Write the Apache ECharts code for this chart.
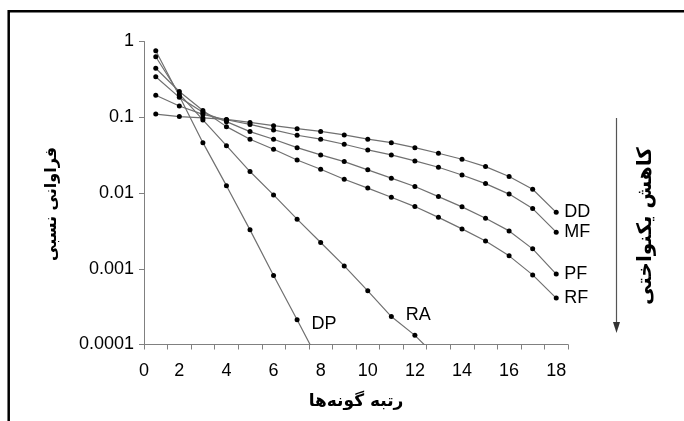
<!DOCTYPE html>
<html>
<head>
<meta charset="utf-8">
<script src="https://cdn.jsdelivr.net/npm/echarts@6/dist/echarts.min.js"></script>
<style>
  html, body { margin: 0; padding: 0; background: #fff; }
  #chart { width: 684px; height: 421px; }
</style>
</head>
<body>
<div id="chart"></div>
<script>
  // species rank (category axis)
  const ranks = ['1', '2', '3', '4', '5', '6', '7', '8', '9', '10', '11', '12', '13', '14', '15', '16', '17', '18'];
  const yMin = 0.0001;
  const yMax = 1;

  // relative abundance per model
  const dd = [0.110, 0.102, 0.098, 0.0935, 0.0854, 0.0775, 0.0707, 0.0650, 0.0584, 0.0513, 0.0462, 0.0397, 0.0335, 0.0279, 0.0223, 0.0165, 0.0112, 0.00555];
  const mf = [0.195, 0.141, 0.109, 0.0927, 0.0804, 0.0680, 0.0579, 0.0513, 0.0440, 0.0370, 0.0318, 0.0265, 0.0219, 0.0173, 0.0133, 0.00967, 0.00623, 0.00304];
  const pf = [0.343, 0.183, 0.116, 0.0875, 0.0646, 0.0513, 0.0397, 0.0318, 0.0260, 0.0202, 0.0157, 0.0122, 0.00896, 0.00656, 0.00465, 0.00316, 0.00183, 0.00085];
  const rf = [0.443, 0.219, 0.123, 0.0752, 0.0513, 0.0378, 0.0273, 0.0206, 0.0152, 0.0116, 0.0088, 0.00662, 0.00477, 0.00336, 0.00233, 0.00148, 0.00083, 0.00041];
  const ra = [0.63, 0.203, 0.0921, 0.0422, 0.0192, 0.00944, 0.00451, 0.00222, 0.00109, 0.000511, 0.000234, 0.000132, 0.000065];
  const dp = [0.756, 0.191, 0.0462, 0.0125, 0.00326, 0.000813, 0.000212, 0.000054];

  const numFont = 'Liberation Sans, Arial, sans-serif';
  const faFont = 'DejaVu Sans, sans-serif';
  const lineColor = '#707070';

  // line with a label at the end of the series
  const endSeries = (name, data) => ({
    name: name,
    type: 'line',
    data: data,
    symbol: 'circle',
    symbolSize: 5,
    itemStyle: { color: '#000' },
    lineStyle: { color: lineColor, width: 1.2 },
    endLabel: {
      show: true,
      formatter: '{a}',
      distance: 8,
      color: '#000',
      fontFamily: numFont,
      fontSize: 18,
    },
  });

  // line with a label next to one of its points
  const pointLabelSeries = (name, data, idx, offset) => ({
    name: name,
    type: 'line',
    data: data.map((v, i) => i === idx
      ? { value: v, label: { show: true, position: 'right', distance: 12, offset: offset, formatter: name } }
      : v),
    symbol: 'circle',
    symbolSize: 5,
    itemStyle: { color: '#000' },
    lineStyle: { color: lineColor, width: 1.2 },
    label: { color: '#000', fontFamily: numFont, fontSize: 18 },
  });

  const chart = echarts.init(document.getElementById('chart'));
  chart.setOption({
    animation: false,
    grid: { left: 144, right: 116, top: 41.5, bottom: 76.5 },
    xAxis: [
      {
        type: 'category',
        data: ranks,
        boundaryGap: true,
        name: 'رتبه گونه‌ها',
        nameLocation: 'middle',
        nameGap: 49,
        nameTextStyle: { fontFamily: faFont, fontWeight: 'bold', fontSize: 17, color: '#000' },
        axisLine: { lineStyle: { color: '#808080', width: 1 } },
        axisTick: { show: true, interval: 0, length: 5, lineStyle: { color: '#808080' } },
        axisLabel: {
          interval: (i) => (i + 1) % 2 === 0,
          margin: 18,
          color: '#000',
          fontFamily: numFont,
          fontSize: 18,
        },
        splitLine: { show: false },
      },
      {
        // only carries the "0" at the origin
        type: 'value',
        position: 'bottom',
        min: 0,
        max: 18,
        interval: 18,
        axisLine: { show: false },
        axisTick: { show: false },
        splitLine: { show: false },
        axisLabel: {
          formatter: (v) => (v === 0 ? '0' : ''),
          margin: 18,
          color: '#000',
          fontFamily: numFont,
          fontSize: 18,
        },
      },
    ],
    yAxis: {
      type: 'log',
      logBase: 10,
      min: yMin,
      max: yMax,
      name: 'فراوانی نسبی',
      nameLocation: 'middle',
      nameRotate: 90,
      nameGap: 84,
      nameTextStyle: { fontFamily: faFont, fontWeight: 'bold', fontSize: 16, color: '#000', padding: [0, 22, 0, 0] },
      axisLine: { show: true, lineStyle: { color: '#808080', width: 1 } },
      axisTick: { show: true, length: 5, lineStyle: { color: '#808080' } },
      axisLabel: {
        formatter: (v) => String(+Number(v).toPrecision(1)),
        margin: 10,
        color: '#000',
        fontFamily: numFont,
        fontSize: 18,
      },
      splitLine: { show: false },
      minorTick: { show: false },
    },
    series: [
      endSeries('DD', dd),
      endSeries('MF', mf),
      endSeries('PF', pf),
      endSeries('RF', rf),
      pointLabelSeries('RA', ra, 10, [0, -2]),
      pointLabelSeries('DP', dp, 6, [0, 4]),
    ],
    graphic: [
      {
        type: 'polyline',
        shape: { points: [[8.7, 421], [8.7, 11.2], [684, 11.2]] },
        style: { fill: 'none', stroke: '#000', lineWidth: 2.5 },
        silent: true,
      },
      {
        type: 'line',
        shape: { x1: 616.5, y1: 118, x2: 616.5, y2: 326 },
        style: { stroke: '#555', lineWidth: 1.2 },
        silent: true,
      },
      {
        type: 'polygon',
        shape: { points: [[613, 322], [620, 322], [616.5, 333]] },
        style: { fill: '#333' },
        silent: true,
      },
      {
        type: 'text',
        x: 646,
        y: 226,
        rotation: Math.PI / 2,
        style: {
          text: 'کاهش یکنواختی',
          fontFamily: faFont,
          fontWeight: 'bold',
          fontSize: 20,
          fill: '#000',
          align: 'center',
          verticalAlign: 'middle',
        },
        silent: true,
      },
    ],
  });
</script>
</body>
</html>
